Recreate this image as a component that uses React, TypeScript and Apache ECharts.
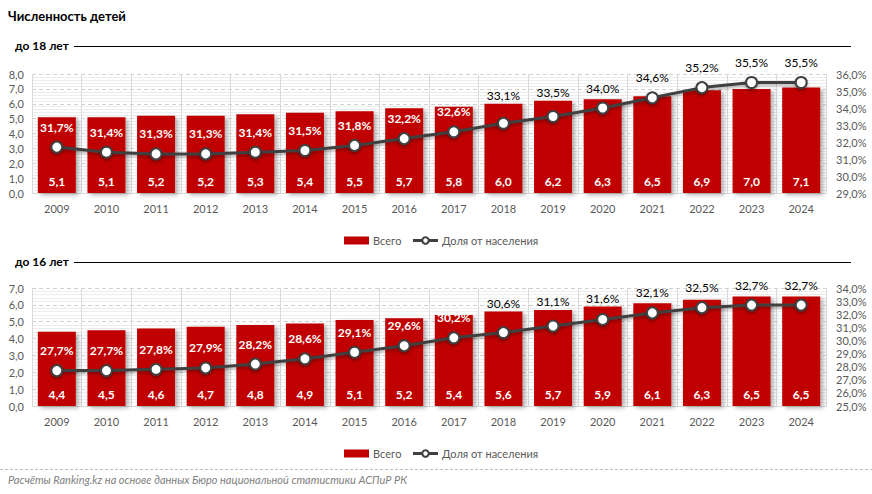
import React, { useEffect, useRef } from 'react';
import * as echarts from 'echarts';

const years = ['2009', '2010', '2011', '2012', '2013', '2014', '2015', '2016', '2017', '2018', '2019', '2020', '2021', '2022', '2023', '2024'];
const total18 = [5.1, 5.1, 5.2, 5.2, 5.3, 5.4, 5.5, 5.7, 5.8, 6.0, 6.2, 6.3, 6.5, 6.9, 7.0, 7.1];
const share18 = [31.7, 31.4, 31.3, 31.3, 31.4, 31.5, 31.8, 32.2, 32.6, 33.1, 33.5, 34.0, 34.6, 35.2, 35.5, 35.5];
const total16 = [4.4, 4.5, 4.6, 4.7, 4.8, 4.9, 5.1, 5.2, 5.4, 5.6, 5.7, 5.9, 6.1, 6.3, 6.5, 6.5];
const share16 = [27.7, 27.7, 27.8, 27.9, 28.2, 28.6, 29.1, 29.6, 30.2, 30.6, 31.1, 31.6, 32.1, 32.5, 32.7, 32.7];
const leftRange18 = [0, 8];
const rightRange18 = [29, 36];
const leftRange16 = [0, 7];
const rightRange16 = [25, 34];

const FONT = 'Lato, "Noto Sans", sans-serif';
const fmt = (v: number) => v.toFixed(1).replace('.', ',');
const RED = '#C00000';
const LINE = '#404040';

function App() {
  const ref = useRef<HTMLDivElement>(null);
  useEffect(() => {
    if (!ref.current) return;
    const chart = echarts.init(ref.current, undefined, { renderer: 'svg' });

    const xAxis = (gridIndex: number) => ({
      type: 'category',
      gridIndex,
      data: years,
      axisTick: { show: false },
      axisLine: { show: true, lineStyle: { color: '#d9d9d9', width: 1 } },
      axisLabel: { color: '#595959', fontSize: 11, fontFamily: FONT, margin: 10 },
      splitLine: { show: true, lineStyle: { color: '#d9d9d9', width: 1 } },
    });
    const leftY = (gridIndex: number, r: number[]) => ({
      type: 'value',
      gridIndex,
      min: r[0],
      max: r[1],
      interval: 1,
      axisLine: { show: false },
      axisTick: { show: false },
      axisLabel: { color: '#595959', fontSize: 11, fontFamily: FONT, margin: 8, formatter: (v: number) => fmt(v) },
      splitLine: { show: true, lineStyle: { color: '#d0d0d0', type: [4, 3], width: 1 } },
      minorTick: { show: false, splitNumber: 5 },
      minorSplitLine: { show: true, lineStyle: { color: '#ededed', width: 1 } },
    });
    const rightY = (gridIndex: number, r: number[]) => ({
      type: 'value',
      gridIndex,
      position: 'right',
      min: r[0],
      max: r[1],
      interval: 1,
      axisLine: { show: false },
      axisTick: { show: false },
      splitLine: { show: false },
      axisLabel: { color: '#595959', fontSize: 11, fontFamily: FONT, margin: 10, formatter: (v: number) => fmt(v) + '%' },
    });
    const barSeries = (idx: number, data: number[]) => ({
      name: 'Всего',
      type: 'bar',
      xAxisIndex: idx,
      yAxisIndex: idx * 2,
      data,
      barWidth: 38,
      itemStyle: { color: RED, shadowBlur: 4, shadowOffsetX: 3, shadowOffsetY: 2, shadowColor: 'rgba(0,0,0,0.3)' },
      label: {
        show: true,
        position: 'insideBottom',
        distance: 6,
        color: '#fff',
        fontWeight: 'bold',
        fontSize: 12,
        fontFamily: FONT,
        formatter: (p: any) => fmt(p.value),
      },
      z: 2,
    });
    const lineSeries = (idx: number, data: number[]) => ({
      name: 'Доля от населения',
      type: 'line',
      xAxisIndex: idx,
      yAxisIndex: idx * 2 + 1,
      data,
      symbol: 'circle',
      symbolSize: 11,
      lineStyle: { color: LINE, width: 3, shadowBlur: 3, shadowOffsetY: 2, shadowColor: 'rgba(0,0,0,0.3)' },
      itemStyle: { color: '#fff', borderColor: LINE, borderWidth: 2, shadowBlur: 3, shadowOffsetY: 2, shadowColor: 'rgba(0,0,0,0.35)' },
      label: { show: false },
      z: 5,
    });
    const legend = (top: number) => ({
      top,
      left: 339,
      itemGap: 10,
      itemWidth: 25,
      itemHeight: 8,
      textStyle: { color: '#595959', fontSize: 11, fontFamily: FONT, padding: [0, 0, 0, -1] },
      data: [
        { name: 'Всего', icon: 'rect' },
        { name: 'Доля от населения', lineStyle: { width: 3, color: LINE }, itemStyle: { color: '#fff', borderColor: LINE, borderWidth: 2 } },
      ],
    });

    const option: any = {
      animation: false,
      backgroundColor: '#fff',
      textStyle: { fontFamily: FONT },
      grid: [
        { left: 32, width: 794, top: 74, height: 119 },
        { left: 32, width: 794, top: 288, height: 118 },
      ],
      legend: [legend(230), legend(443)],
      xAxis: [xAxis(0), xAxis(1)],
      yAxis: [leftY(0, leftRange18), rightY(0, rightRange18), leftY(1, leftRange16), rightY(1, rightRange16)],
      series: [barSeries(0, total18), lineSeries(0, share18), barSeries(1, total16), lineSeries(1, share16)],
      graphic: [
        { type: 'text', left: 8, top: 9, style: { text: 'Численность детей', font: `bold 13px ${FONT}`, fill: '#000' } },
        { type: 'text', left: 15, top: 39, style: { text: 'до 18 лет', font: `bold 12px ${FONT}`, fill: '#000' } },
        { type: 'line', shape: { x1: 74, y1: 46.5, x2: 851, y2: 46.5 }, style: { stroke: '#000', lineWidth: 1 } },
        { type: 'text', left: 15, top: 255, style: { text: 'до 16 лет', font: `bold 12px ${FONT}`, fill: '#000' } },
        { type: 'line', shape: { x1: 74, y1: 262.5, x2: 851, y2: 262.5 }, style: { stroke: '#000', lineWidth: 1 } },
        { type: 'line', shape: { x1: 0, y1: 469.5, x2: 872, y2: 469.5 }, style: { stroke: '#bfbfbf', lineWidth: 1, lineDash: [3, 2] } },
        { type: 'text', left: 8, top: 474, style: { text: 'Расчёты Ranking.kz на основе данных Бюро национальной статистики АСПиР РК', font: `italic 11px ${FONT}`, fill: '#7f7f7f' } },
      ],
    };
    chart.setOption(option);

    const buildLabels = (barIdx: number, lineIdx: number, totals: number[], shares: number[]) =>
      shares.map((s, i) => {
        const pt = chart.convertToPixel({ seriesIndex: lineIdx }, [i, s]) as number[];
        const bt = chart.convertToPixel({ seriesIndex: barIdx }, [i, totals[i]]) as number[];
        const cand = pt[1] - 20;
        const inside = cand >= bt[1] + 1.5;
        const y = inside ? cand : Math.min(cand, bt[1] - 8);
        return {
          value: s,
          label: {
            show: true,
            position: 'inside',
            offset: [0, y - pt[1]],
            color: inside ? '#fff' : '#000',
            fontWeight: inside ? 'bold' : 'normal',
            fontSize: 12,
            fontFamily: FONT,
            formatter: fmt(s) + '%',
          },
        };
      });

    chart.setOption({
      series: [
        {},
        { data: buildLabels(0, 1, total18, share18) },
        {},
        { data: buildLabels(2, 3, total16, share16) },
      ],
    });

    return () => chart.dispose();
  }, []);
  return <div ref={ref} style={{ position: 'fixed', left: 0, top: 0, width: 872, height: 494 }} />;
}

export default App;
